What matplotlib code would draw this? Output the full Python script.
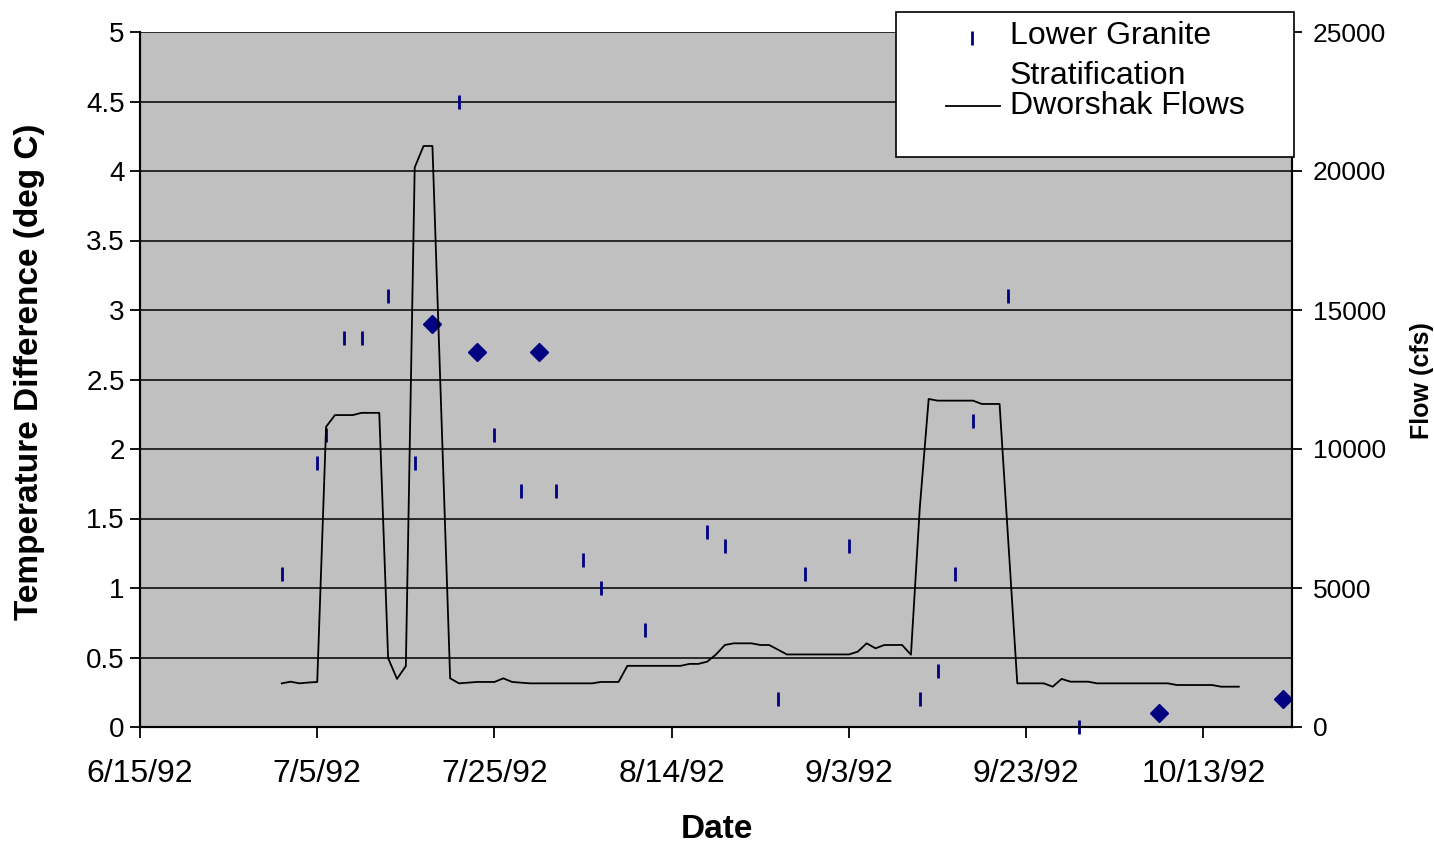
import datetime as dt

import matplotlib
matplotlib.use('Agg')
import matplotlib.pyplot as plt
from matplotlib.lines import Line2D
from matplotlib.patches import Rectangle

plt.rcParams['font.family'] = ['Liberation Sans', 'DejaVu Sans']

# Lower Granite stratification (deg C)
strat_dates = ['1992-07-01', '1992-07-05', '1992-07-06', '1992-07-08',
               '1992-07-10', '1992-07-13', '1992-07-16', '1992-07-21',
               '1992-07-25', '1992-07-28', '1992-08-01', '1992-08-04',
               '1992-08-06', '1992-08-11', '1992-08-18', '1992-08-20',
               '1992-08-26', '1992-08-29', '1992-09-03', '1992-09-11',
               '1992-09-13', '1992-09-15', '1992-09-17', '1992-09-21',
               '1992-09-29']
strat_values = [1.1, 1.9, 2.1, 2.8, 2.8, 3.1, 1.9, 4.5, 2.1, 1.7, 1.7, 1.2,
                1.0, 0.7, 1.4, 1.3, 0.2, 1.1, 1.3, 0.2, 0.4, 1.1, 2.2, 3.1,
                0.0]

# points drawn as diamonds
diamond_dates = ['1992-07-18', '1992-07-23', '1992-07-30', '1992-10-08',
                 '1992-10-22']
diamond_values = [2.9, 2.7, 2.7, 0.1, 0.2]

# Dworshak flows (cfs)
flow_dates = ['1992-07-01', '1992-07-02', '1992-07-03', '1992-07-04',
              '1992-07-05', '1992-07-06', '1992-07-07', '1992-07-09',
              '1992-07-10', '1992-07-12', '1992-07-13', '1992-07-14',
              '1992-07-15', '1992-07-16', '1992-07-17', '1992-07-18',
              '1992-07-20', '1992-07-21', '1992-07-23', '1992-07-25',
              '1992-07-26', '1992-07-27', '1992-07-29', '1992-08-05',
              '1992-08-06', '1992-08-08', '1992-08-09', '1992-08-15',
              '1992-08-16', '1992-08-17', '1992-08-18', '1992-08-19',
              '1992-08-20', '1992-08-21', '1992-08-23', '1992-08-24',
              '1992-08-25', '1992-08-27', '1992-09-03', '1992-09-04',
              '1992-09-05', '1992-09-06', '1992-09-07', '1992-09-09',
              '1992-09-10', '1992-09-11', '1992-09-12', '1992-09-13',
              '1992-09-17', '1992-09-18', '1992-09-20', '1992-09-22',
              '1992-09-25', '1992-09-26', '1992-09-27', '1992-09-28',
              '1992-09-30', '1992-10-01', '1992-10-09', '1992-10-10',
              '1992-10-14', '1992-10-15', '1992-10-17']
flow_values = [1570, 1630, 1570, 1600, 1620, 10800, 11220, 11220, 11300,
               11300, 2480, 1730, 2190, 20130, 20900, 20900, 1750, 1570,
               1620, 1620, 1750, 1620, 1570, 1570, 1620, 1620, 2200, 2200,
               2270, 2270, 2350, 2610, 2950, 3010, 3010, 2950, 2950, 2610,
               2610, 2710, 3010, 2830, 2950, 2950, 2600, 7900, 11800, 11740,
               11740, 11620, 11620, 1570, 1570, 1450, 1730, 1630, 1630,
               1570, 1570, 1510, 1510, 1450, 1450]

x_tick_dates = ['1992-06-15', '1992-07-05', '1992-07-25', '1992-08-14',
                '1992-09-03', '1992-09-23', '1992-10-13']
x_range = ['1992-06-15', '1992-10-23']
temp_ticks = [0, 0.5, 1, 1.5, 2, 2.5, 3, 3.5, 4, 4.5, 5]
temp_labels = ['0', '0.5', '1', '1.5', '2', '2.5', '3', '3.5', '4', '4.5', '5']
flow_ticks = [0, 5000, 10000, 15000, 20000, 25000]


def to_dates(strings):
    return [dt.datetime.strptime(s, '%Y-%m-%d') for s in strings]


W, H = 1434, 848
fig = plt.figure(figsize=(W / 100, H / 100), dpi=100)
ax = fig.add_axes([140 / W, 1 - 727 / H, 1152 / W, 695 / H])
ax.set_facecolor('#c0c0c0')

ax.plot(to_dates(strat_dates), strat_values, linestyle='none', marker='|',
        ms=10, mew=2, color='#000080', clip_on=False, zorder=4)
ax.plot(to_dates(diamond_dates), diamond_values, linestyle='none',
        marker='D', ms=9, color='#000080', clip_on=False, zorder=4)

ax.set_ylim(0, 5)
ax.set_yticks(temp_ticks)
ax.set_yticklabels(temp_labels)
ax.yaxis.grid(True, color='black', linewidth=1.1)
ax.set_axisbelow(True)

ax.set_xlim(to_dates(x_range))
tick_dates = to_dates(x_tick_dates)
ax.set_xticks(tick_dates)
ax.set_xticklabels(['%d/%d/%s' % (d.month, d.day, d.strftime('%y'))
                    for d in tick_dates])

ax2 = ax.twinx()
ax2.plot(to_dates(flow_dates), flow_values, color='black', linewidth=1.3)
ax2.set_ylim(0, 25000)
ax2.set_yticks(flow_ticks)
ax2.set_xlim(to_dates(x_range))

for a in (ax, ax2):
    for s in a.spines.values():
        s.set_linewidth(1.5)
ax.spines['top'].set_visible(False)
ax2.spines['top'].set_visible(False)

ax.tick_params(axis='y', labelsize=20, length=7, width=1.3, pad=4)
ax.tick_params(axis='x', labelsize=23, length=8, width=1.3, pad=15)
ax2.tick_params(axis='y', labelsize=19, length=7, width=1.3, pad=8)

fig.text(717 / W, 1 - 830 / H, 'Date', ha='center', va='center',
         fontsize=24, fontweight='bold')
fig.text(30 / W, 1 - 372 / H, 'Temperature Difference (deg C)',
         rotation=90, ha='center', va='center', fontsize=24,
         fontweight='bold')
fig.text(1422 / W, 1 - 381 / H, 'Flow (cfs)', rotation=90, ha='center',
         va='center', fontsize=18, fontweight='bold')

# legend box drawn by hand to match the original layout
fig.patches.append(Rectangle((896 / W, 1 - 157 / H), 398 / W, 145 / H,
                             transform=fig.transFigure, facecolor='white',
                             edgecolor='black', linewidth=1.2, zorder=5))
fig.lines.append(Line2D([972 / W], [1 - 38 / H], transform=fig.transFigure,
                        marker='|', ms=10, mew=2, color='#000080',
                        linestyle='none', zorder=6))
fig.lines.append(Line2D([946 / W, 1000 / W], [1 - 106 / H, 1 - 106 / H],
                        transform=fig.transFigure, color='black',
                        linewidth=1.3, zorder=6))
for label, y in [('Lower Granite', 36), ('Stratification', 76),
                 ('Dworshak Flows', 106)]:
    fig.text(1010 / W, 1 - y / H, label, ha='left', va='center',
             fontsize=23, zorder=7)

fig.savefig('out.png', dpi=100)
